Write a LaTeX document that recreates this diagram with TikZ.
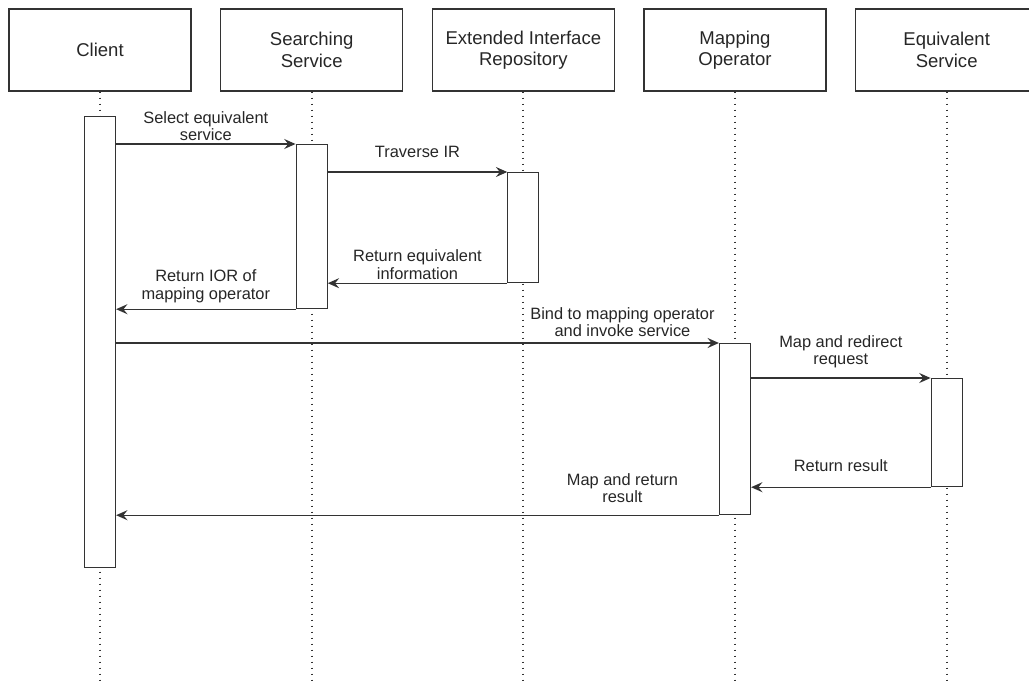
\documentclass[tikz,border=0pt]{standalone}
\usepackage{fontspec}
\setmainfont{Liberation Sans}
\usepackage{xcolor}
\usepackage{tikz}
\usetikzlibrary{arrows.meta}
\usetikzlibrary{positioning}
\colorlet{seqline}{black!80}
\colorlet{seqtext}{black!85}
\tikzstyle{msghead}=[>/.tip={Stealth[length=8.5pt,width=7.5pt,inset=3pt]}]
\tikzstyle{head}=[draw=seqline,line width=.9pt,minimum width=136.5pt,minimum height=61.5pt,inner sep=0pt,align=center,text=seqtext,font=\fontsize{13.9}{16.1}\selectfont]
\tikzstyle{life}=[seqline,line width=1.3pt,dash pattern=on 1.1pt off 3.4pt]
\tikzstyle{act} =[draw=seqline,fill=white,line width=.9pt,minimum width=23.25pt,inner sep=0pt,anchor=north]
\tikzstyle{msg} =[line width=1pt,seqline,msghead,->]
\tikzstyle{lbl} =[midway,yshift=15pt,align=center,text=seqtext,font=\fontsize{12.3}{13}\selectfont]

\begin{document}
\begin{tikzpicture}[x=.75pt,y=-.75pt]
  \useasboundingbox (0,0) rectangle (1029,682);
  \clip (0,0) rectangle (1029,682);
  % participants
  \node[head] (cl) at (100,50) {Client};
  \node[head,right=21.35pt of cl] (ss) {Searching\\Service};
  \node[head,right=21.35pt of ss] (ir) {Extended Interface\\Repository};
  \node[head,right=21.35pt of ir] (mo) {Mapping\\Operator};
  \node[head,right=21.35pt of mo] (es) {Equivalent\\Service};
  \coordinate (bot) at (0,682);
  % lifelines
  \draw[life] (cl.south) -- (cl.south |- bot);
  \draw[life] (ss.south) -- (ss.south |- bot);
  \draw[life] (ir.south) -- (ir.south |- bot);
  \draw[life] (mo.south) -- (mo.south |- bot);
  \draw[life] (es.south) -- (es.south |- bot);
  % activations
  \node[act,minimum height=338.25pt] (acl) at (cl.south |- 0,116) {};
  \node[act,minimum height=123pt]    (ass) at (ss.south |- 0,144) {};
  \node[act,minimum height=82.5pt]   (air) at (ir.south |- 0,172) {};
  \node[act,minimum height=128.25pt] (amo) at (mo.south |- 0,343) {};
  \node[act,minimum height=81pt]     (aes) at (es.south |- 0,378) {};
  % messages
  \draw[msg] (acl.east |- ass.north) --node[lbl,yshift=-1.5pt]{Select equivalent\\service} (ass.north west);
  \draw[msg] (ass.east |- air.north) --node[lbl]{Traverse IR} (air.north west);
  \draw[msg] (air.south west) --node[lbl,yshift=-1pt]{Return equivalent\\information} (ass.east |- air.south);
  \draw[msg] (ass.south west) --node[lbl,yshift=2.25pt]{Return IOR of\\mapping operator} (acl.east |- ass.south);
  \draw[msg] (acl.east |- amo.north) --node[lbl,pos=.84,yshift=.75pt]{Bind to mapping operator\\and invoke service} (amo.north west);
  \draw[msg] (amo.east |- aes.north) --node[lbl,yshift=4.5pt]{Map and redirect\\request} (aes.north west);
  \draw[msg] (aes.south west) --node[lbl,yshift=1pt]{Return result} (amo.east |- aes.south);
  \draw[msg] (amo.south west) --node[lbl,pos=.16,yshift=5.5pt]{Map and return\\result} (acl.east |- amo.south);
\end{tikzpicture}
\end{document}
